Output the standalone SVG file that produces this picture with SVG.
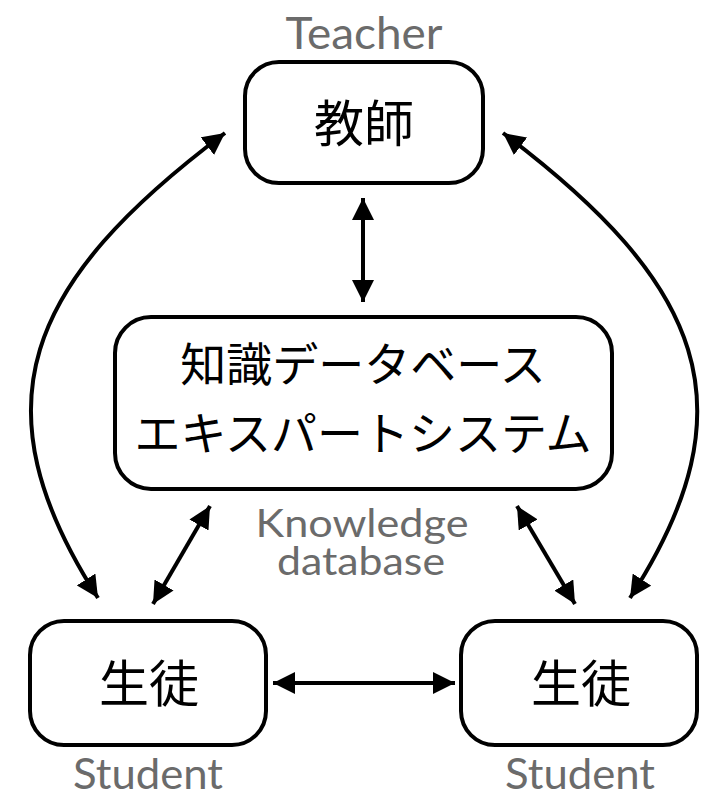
<svg xmlns="http://www.w3.org/2000/svg" width="702" height="797" viewBox="0 0 702 797">
  <style>
    .box { fill: #ffffff; stroke: #000000; stroke-width: 4; }
    .jp { font-family: "Noto Sans CJK JP", "Noto Sans", sans-serif; fill: #000000; text-anchor: middle; }
    .en { font-family: Lato, "Open Sans", sans-serif; fill: #6b6b6b; text-anchor: middle; }
    .edge { fill: none; stroke: #000000; stroke-width: 4; marker-start: url(#arrS); marker-end: url(#arrE); }
  </style>
  <defs>
    <marker id="arrE" viewBox="0 0 22 22" refX="22" refY="11" markerWidth="22" markerHeight="22" markerUnits="userSpaceOnUse" orient="auto">
      <path d="M0,0 L22,11 L0,22 Z" fill="#000000"/>
    </marker>
    <marker id="arrS" viewBox="0 0 22 22" refX="0" refY="11" markerWidth="22" markerHeight="22" markerUnits="userSpaceOnUse" orient="auto">
      <path d="M22,0 L0,11 L22,22 Z" fill="#000000"/>
    </marker>
  </defs>

  <g id="connectors">
    <path class="edge" d="M363,198 L363,302"/>
    <path class="edge" d="M273,683 L455,683"/>
    <path class="edge" d="M210,506 L153,604"/>
    <path class="edge" d="M517,506 L575,604"/>
    <path class="edge" d="M225,133 C25,283 -26,405 98,598"/>
    <path class="edge" d="M503,133 C702,283 755,405 630,598"/>
  </g>

  <g id="teacher">
    <rect class="box" x="245" y="62" width="238" height="121" rx="34" ry="34"/>
    <text class="jp" x="364" y="142" font-size="50">教師</text>
    <text class="en" x="364" y="49" font-size="44" textLength="157" lengthAdjust="spacingAndGlyphs">Teacher</text>
  </g>

  <g id="knowledge">
    <rect class="box" x="115" y="317" width="497" height="172" rx="36" ry="36"/>
    <text class="jp" x="363" y="381" font-size="46">知識データベース</text>
    <text class="jp" x="363" y="450" font-size="46">エキスパートシステム</text>
    <text class="en" x="362" y="537" font-size="38" textLength="213" lengthAdjust="spacingAndGlyphs">Knowledge</text>
    <text class="en" x="361" y="575" font-size="38" textLength="168" lengthAdjust="spacingAndGlyphs">database</text>
  </g>

  <g id="student-left">
    <rect class="box" x="30" y="621" width="236" height="124" rx="34" ry="34"/>
    <text class="jp" x="149" y="702" font-size="50">生徒</text>
    <text class="en" x="148" y="789" font-size="42" textLength="150" lengthAdjust="spacingAndGlyphs">Student</text>
  </g>

  <g id="student-right">
    <rect class="box" x="461" y="621" width="236" height="124" rx="34" ry="34"/>
    <text class="jp" x="581" y="702" font-size="50">生徒</text>
    <text class="en" x="580" y="789" font-size="42" textLength="150" lengthAdjust="spacingAndGlyphs">Student</text>
  </g>
</svg>
